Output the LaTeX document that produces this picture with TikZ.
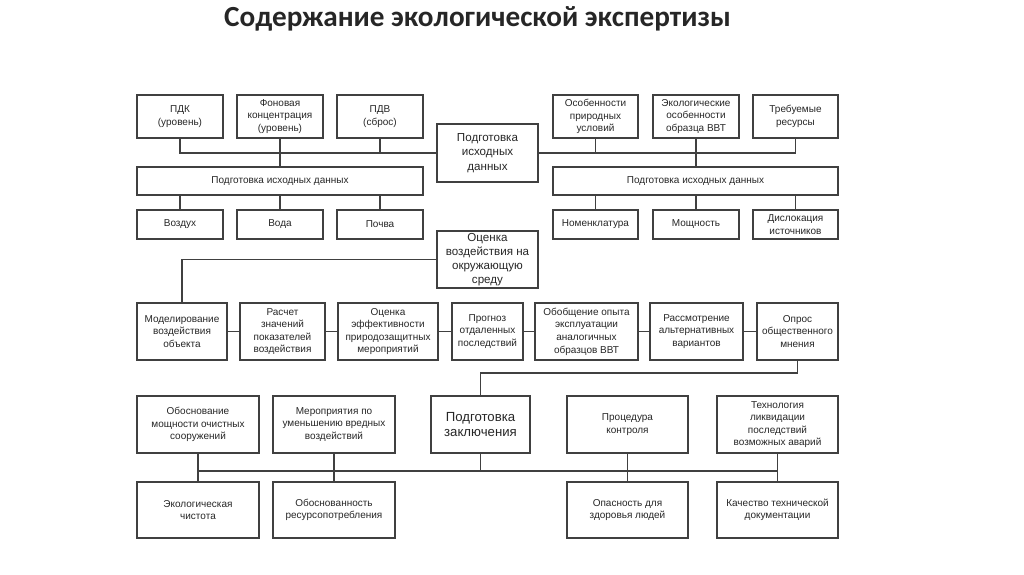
\documentclass[tikz,border=0pt]{standalone}
\usepackage{fontspec}
\setmainfont{Liberation Sans}
\newfontfamily\titlefont{Carlito}
\usepackage{tikz}
\usetikzlibrary{positioning}

\tikzset{
  blk/.style={draw=black!75, text=black!85, align=center, inner sep=1pt,
    font=\fontsize{5}{6.3}\selectfont},
  hub/.style={blk, font=\fontsize{5.8}{7.1}\selectfont},
  bighub/.style={blk, font=\fontsize{6.6}{7.6}\selectfont},
  wire/.style={draw=black!75, line width=0.6pt}
}

\begin{document}
\begin{tikzpicture}[x=0.5pt, y=-0.5pt, line width=0.6pt]
		\useasboundingbox (0,0) rectangle (1024,574);
		% Title:
		\node[font=\titlefont\bfseries\fontsize{14.6}{16}\selectfont, text=black!85](title) at (477.5,19){Содержание экологической экспертизы};
		% Top block:
		\node[blk, minimum width=43pt, minimum height=21.5pt](pdk) at (180,116.5){ПДК\\(уровень)};
		\node[blk, minimum width=43pt, minimum height=21.5pt](fon) at (280,116.5){Фоновая\\концентрация\\(уровень)};
		\node[blk, minimum width=43pt, minimum height=21.5pt](pdv) at (380,116.5){ПДВ\\(сброс)};
		\node[blk, minimum width=42.5pt, minimum height=21.5pt](osob) at (595.5,116.5){Особенности\\природных\\условий};
		\node[blk, minimum width=43pt, minimum height=21.5pt](ekol) at (696,116.5){Экологические\\особенности\\образца ВВТ};
		\node[blk, minimum width=42.5pt, minimum height=21.5pt](treb) at (795.5,116.5){Требуемые\\ресурсы};
		\node[hub, minimum width=50.5pt, minimum height=29pt](prep) at (487.5,153){Подготовка\\исходных\\данных};
		\node[blk, minimum width=143pt, minimum height=14pt](dataL) at (280,181){Подготовка исходных данных};
		\node[blk, minimum width=142.5pt, minimum height=14pt](dataR) at (695.5,181){Подготовка исходных данных};
		\node[blk, minimum width=43pt, minimum height=14.5pt](air) at (180,224.5){Воздух};
		\node[blk, minimum width=43pt, minimum height=14.5pt](water) at (280,224.5){Вода};
		\node[blk, minimum width=43pt, minimum height=14.5pt](soil) at (380,224.5){Почва};
		\node[blk, minimum width=42.5pt, minimum height=14.5pt](nomen) at (595.5,224.5){Номенклатура};
		\node[blk, minimum width=43pt, minimum height=14.5pt](power) at (696,224.5){Мощность};
		\node[blk, minimum width=42.5pt, minimum height=14.5pt](disl) at (795.5,224.5){Дислокация\\источников};
		% Middle block:
		\node[hub, minimum width=50.5pt, minimum height=28.5pt](ovos) at (487.5,259.5){Оценка\\воздействия на\\окружающую\\среду};
		\node[blk, minimum width=45pt, minimum height=28.5pt](model) at (182,331.5){Моделирование\\воздействия\\объекта};
		\node[blk, minimum width=42.5pt, minimum height=28.5pt](calc) at (282.5,331.5){Расчет\\значений\\показателей\\воздействия};
		\node[blk, minimum width=50pt, minimum height=28.5pt](effect) at (388,331.5){Оценка\\эффективности\\природозащитных\\мероприятий};
		\node[blk, minimum width=35.5pt, minimum height=28.5pt](progn) at (487.5,331.5){Прогноз\\отдаленных\\последствий};
		\node[blk, minimum width=51.5pt, minimum height=28.5pt](exper) at (586.5,331.5){Обобщение опыта\\эксплуатации\\аналогичных\\образцов ВВТ};
		\node[blk, minimum width=46.5pt, minimum height=28.5pt](alter) at (696.5,331.5){Рассмотрение\\альтернативных\\вариантов};
		\node[blk, minimum width=40.5pt, minimum height=28.5pt](poll) at (797.5,331.5){Опрос\\общественного\\мнения};
		% Bottom block:
		\node[blk, minimum width=61pt, minimum height=28.5pt](clean) at (198,424.5){Обоснование\\мощности очистных\\сооружений};
		\node[blk, minimum width=61pt, minimum height=28.5pt](reduce) at (334,424.5){Мероприятия по\\уменьшению вредных\\воздействий};
		\node[bighub, minimum width=49.5pt, minimum height=28.5pt](concl) at (480.5,424.5){Подготовка\\заключения};
		\node[blk, minimum width=60.5pt, minimum height=28.5pt](proc) at (627.5,424.5){Процедура\\контроля};
		\node[blk, minimum width=60.5pt, minimum height=28.5pt](tech) at (777.5,424.5){Технология\\ликвидации\\последствий\\возможных аварий};
		\node[blk, minimum width=61pt, minimum height=28pt](pure) at (198,510){Экологическая\\чистота};
		\node[blk, minimum width=61pt, minimum height=28pt](resrc) at (334,510){Обоснованность\\ресурсопотребления};
		\node[blk, minimum width=60.5pt, minimum height=28pt](health) at (627.5,510){Опасность для\\здоровья людей};
		\node[blk, minimum width=60.5pt, minimum height=28pt](docs) at (777.5,510){Качество технической\\документации};
		\coordinate(bend) at (797.5,373);
		\coordinate(bus) at (480.5,471);
		% Wires:
		\draw[wire] (pdk.south) |- (prep.west);
		\draw[wire] (pdv.south) -- (pdv.south |- prep.west);
		\draw[wire] (fon.south) -- (dataL.north -| fon.south);
		\draw[wire] (treb.south) |- (prep.east);
		\draw[wire] (osob.south) -- (osob.south |- prep.east);
		\draw[wire] (ekol.south) -- (dataR.north -| ekol.south);
		\draw[wire] (air.north) -- (air.north |- dataL.south);
		\draw[wire] (water.north) -- (water.north |- dataL.south);
		\draw[wire] (soil.north) -- (soil.north |- dataL.south);
		\draw[wire] (nomen.north) -- (nomen.north |- dataR.south);
		\draw[wire] (power.north) -- (power.north |- dataR.south);
		\draw[wire] (disl.north) -- (disl.north |- dataR.south);
		\draw[wire] (ovos.west) -| (model.north);
		\draw[wire] (model.east) -- (calc.west);
		\draw[wire] (calc.east) -- (effect.west);
		\draw[wire] (effect.east) -- (progn.west);
		\draw[wire] (progn.east) -- (exper.west);
		\draw[wire] (exper.east) -- (alter.west);
		\draw[wire] (alter.east) -- (poll.west);
		\draw[wire] (poll.south) -- (bend) -| (concl.north);
		\draw[wire] (concl.south) -- (bus);
		\draw[wire] (clean.south |- bus) -- (tech.south |- bus);
		\draw[wire] (clean.south) -- (pure.north);
		\draw[wire] (reduce.south) -- (resrc.north);
		\draw[wire] (proc.south) -- (health.north);
		\draw[wire] (tech.south) -- (docs.north);
	\end{tikzpicture}
\end{document}
